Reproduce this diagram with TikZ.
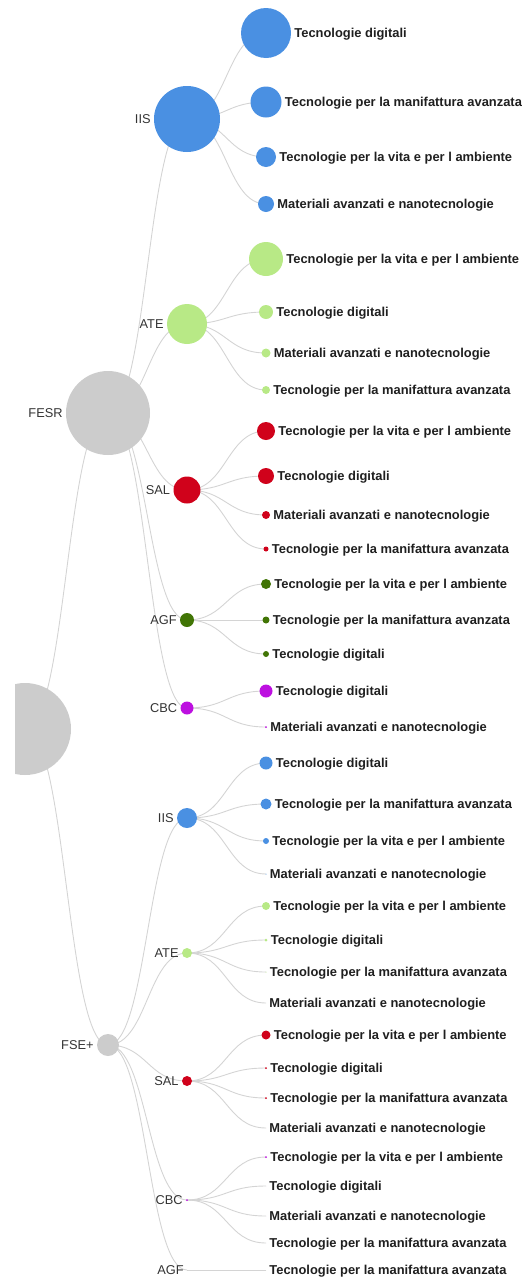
\documentclass[tikz,border=0pt]{standalone}
\usepackage{fontspec}
\setmainfont{Liberation Sans}
\usepackage{tikz}
\usetikzlibrary{calc, backgrounds}
\definecolor{iisblue}{RGB}{74, 144, 226}
\definecolor{atelime}{RGB}{184, 233, 134}
\definecolor{salred}{RGB}{208, 2, 27}
\definecolor{agfolive}{RGB}{65, 117, 5}
\definecolor{cbcviolet}{RGB}{189, 16, 224}
\definecolor{fundgrey}{RGB}{204, 204, 204}
\definecolor{linkgrey}{RGB}{212, 212, 212}

\begin{document}
\begin{tikzpicture}[x=1pt, y=-1pt,
    dot/.style={circle, inner sep=0pt, minimum size=#1},
    leaftext/.style={font=\fontsize{12.9}{14}\selectfont\bfseries, text=black!88,
        inner sep=0pt, text depth=0pt},
    innertext/.style={font=\fontsize{12.8}{14}\selectfont, text=black!80,
        inner sep=0pt, text depth=0pt},
    leaf/.style={label={[leaftext]right:#1}},
    inner/.style={label={[innertext]left:#1}},
    label distance=3pt,
    treelink/.style={draw=linkgrey, line width=0.9pt},
    diag/.style={to path={let \p1=(\tikztostart), \p2=(\tikztotarget) in
        .. controls ({(\x1+\x2)/2},\y1) and ({(\x1+\x2)/2},\y2) .. (\tikztotarget)}}
]
    \useasboundingbox (0,0) rectangle (525,1277);

    % root, cut by the left edge
    \begin{scope}
        \clip (15,0) rectangle (525,1277);
        \node[dot=92pt, fill=fundgrey] (root) at (25,729) {};
    \end{scope}

    % funds
    \node[dot=84pt, fill=fundgrey, inner=FESR] (fesr) at (108,413) {};
    \node[dot=22pt, fill=fundgrey, inner=FSE+] (fse) at (108,1045) {};

    % FESR areas
    \node[dot=66pt, fill=iisblue, inner=IIS] (a-iis) at (187,119) {};
    \node[dot=40pt, fill=atelime, inner=ATE] (a-ate) at (187,324) {};
    \node[dot=27pt, fill=salred, inner=SAL] (a-sal) at (187,490) {};
    \node[dot=14pt, fill=agfolive, inner=AGF] (a-agf) at (187,620) {};
    \node[dot=13pt, fill=cbcviolet, inner=CBC] (a-cbc) at (187,708) {};

    % FSE+ areas
    \node[dot=20pt, fill=iisblue, inner=IIS] (b-iis) at (187,818) {};
    \node[dot=10pt, fill=atelime, inner=ATE] (b-ate) at (187,953) {};
    \node[dot=10pt, fill=salred, inner=SAL] (b-sal) at (187,1081) {};
    \node[dot=2pt, fill=cbcviolet, inner=CBC] (b-cbc) at (187,1200) {};
    \node[dot=0pt, fill=agfolive, inner=AGF] (b-agf) at (187,1270) {};

    % FESR leaves
    \node[dot=50pt, fill=iisblue, leaf=Tecnologie digitali] (a-iis-1) at (266,33) {};
    \node[dot=31pt, fill=iisblue, leaf=Tecnologie per la manifattura avanzata] (a-iis-2) at (266,102) {};
    \node[dot=20pt, fill=iisblue, leaf=Tecnologie per la vita e per l ambiente] (a-iis-3) at (266,157) {};
    \node[dot=16pt, fill=iisblue, leaf=Materiali avanzati e nanotecnologie] (a-iis-4) at (266,204) {};

    \node[dot=34pt, fill=atelime, leaf=Tecnologie per la vita e per l ambiente] (a-ate-1) at (266,259) {};
    \node[dot=14pt, fill=atelime, leaf=Tecnologie digitali] (a-ate-2) at (266,312) {};
    \node[dot=9pt, fill=atelime, leaf=Materiali avanzati e nanotecnologie] (a-ate-3) at (266,353) {};
    \node[dot=8pt, fill=atelime, leaf=Tecnologie per la manifattura avanzata] (a-ate-4) at (266,390) {};

    \node[dot=18pt, fill=salred, leaf=Tecnologie per la vita e per l ambiente] (a-sal-1) at (266,431) {};
    \node[dot=16pt, fill=salred, leaf=Tecnologie digitali] (a-sal-2) at (266,476) {};
    \node[dot=8pt, fill=salred, leaf=Materiali avanzati e nanotecnologie] (a-sal-3) at (266,515) {};
    \node[dot=5pt, fill=salred, leaf=Tecnologie per la manifattura avanzata] (a-sal-4) at (266,549) {};

    \node[dot=10pt, fill=agfolive, leaf=Tecnologie per la vita e per l ambiente] (a-agf-1) at (266,584) {};
    \node[dot=7pt, fill=agfolive, leaf=Tecnologie per la manifattura avanzata] (a-agf-2) at (266,620) {};
    \node[dot=6pt, fill=agfolive, leaf=Tecnologie digitali] (a-agf-3) at (266,654) {};

    \node[dot=13pt, fill=cbcviolet, leaf=Tecnologie digitali] (a-cbc-1) at (266,691) {};
    \node[dot=2pt, fill=cbcviolet, leaf=Materiali avanzati e nanotecnologie] (a-cbc-2) at (266,727) {};

    % FSE+ leaves
    \node[dot=13pt, fill=iisblue, leaf=Tecnologie digitali] (b-iis-1) at (266,763) {};
    \node[dot=11pt, fill=iisblue, leaf=Tecnologie per la manifattura avanzata] (b-iis-2) at (266,804) {};
    \node[dot=6pt, fill=iisblue, leaf=Tecnologie per la vita e per l ambiente] (b-iis-3) at (266,841) {};
    \node[dot=1pt, fill=iisblue, leaf=Materiali avanzati e nanotecnologie] (b-iis-4) at (266,874) {};

    \node[dot=8pt, fill=atelime, leaf=Tecnologie per la vita e per l ambiente] (b-ate-1) at (266,906) {};
    \node[dot=3pt, fill=atelime, leaf=Tecnologie digitali] (b-ate-2) at (266,940) {};
    \node[dot=1pt, fill=atelime, leaf=Tecnologie per la manifattura avanzata] (b-ate-3) at (266,972) {};
    \node[dot=0pt, fill=atelime, leaf=Materiali avanzati e nanotecnologie] (b-ate-4) at (266,1003) {};

    \node[dot=9pt, fill=salred, leaf=Tecnologie per la vita e per l ambiente] (b-sal-1) at (266,1035) {};
    \node[dot=2pt, fill=salred, leaf=Tecnologie digitali] (b-sal-2) at (266,1068) {};
    \node[dot=2pt, fill=salred, leaf=Tecnologie per la manifattura avanzata] (b-sal-3) at (266,1098) {};
    \node[dot=0pt, fill=salred, leaf=Materiali avanzati e nanotecnologie] (b-sal-4) at (266,1128) {};

    \node[dot=2pt, fill=cbcviolet, leaf=Tecnologie per la vita e per l ambiente] (b-cbc-1) at (266,1157) {};
    \node[dot=0pt, fill=cbcviolet, leaf=Tecnologie digitali] (b-cbc-2) at (266,1186) {};
    \node[dot=0pt, fill=cbcviolet, leaf=Materiali avanzati e nanotecnologie] (b-cbc-3) at (266,1216) {};
    \node[dot=0pt, fill=cbcviolet, leaf=Tecnologie per la manifattura avanzata] (b-cbc-4) at (266,1243) {};

    \node[dot=0pt, fill=agfolive, leaf=Tecnologie per la manifattura avanzata] (b-agf-1) at (266,1270) {};

    % links, under the circles
    \begin{scope}[on background layer]
        \draw[treelink] (root.center) to[diag] (fesr.center);
        \draw[treelink] (root.center) to[diag] (fse.center);

        \draw[treelink] (fesr.center) to[diag] (a-iis.center);
        \draw[treelink] (fesr.center) to[diag] (a-ate.center);
        \draw[treelink] (fesr.center) to[diag] (a-sal.center);
        \draw[treelink] (fesr.center) to[diag] (a-agf.center);
        \draw[treelink] (fesr.center) to[diag] (a-cbc.center);

        \draw[treelink] (fse.center) to[diag] (b-iis.center);
        \draw[treelink] (fse.center) to[diag] (b-ate.center);
        \draw[treelink] (fse.center) to[diag] (b-sal.center);
        \draw[treelink] (fse.center) to[diag] (b-cbc.center);
        \draw[treelink] (fse.center) to[diag] (b-agf.center);

        \draw[treelink] (a-iis.center) to[diag] (a-iis-1.center);
        \draw[treelink] (a-iis.center) to[diag] (a-iis-2.center);
        \draw[treelink] (a-iis.center) to[diag] (a-iis-3.center);
        \draw[treelink] (a-iis.center) to[diag] (a-iis-4.center);
        \draw[treelink] (a-ate.center) to[diag] (a-ate-1.center);
        \draw[treelink] (a-ate.center) to[diag] (a-ate-2.center);
        \draw[treelink] (a-ate.center) to[diag] (a-ate-3.center);
        \draw[treelink] (a-ate.center) to[diag] (a-ate-4.center);
        \draw[treelink] (a-sal.center) to[diag] (a-sal-1.center);
        \draw[treelink] (a-sal.center) to[diag] (a-sal-2.center);
        \draw[treelink] (a-sal.center) to[diag] (a-sal-3.center);
        \draw[treelink] (a-sal.center) to[diag] (a-sal-4.center);
        \draw[treelink] (a-agf.center) to[diag] (a-agf-1.center);
        \draw[treelink] (a-agf.center) to[diag] (a-agf-2.center);
        \draw[treelink] (a-agf.center) to[diag] (a-agf-3.center);
        \draw[treelink] (a-cbc.center) to[diag] (a-cbc-1.center);
        \draw[treelink] (a-cbc.center) to[diag] (a-cbc-2.center);

        \draw[treelink] (b-iis.center) to[diag] (b-iis-1.center);
        \draw[treelink] (b-iis.center) to[diag] (b-iis-2.center);
        \draw[treelink] (b-iis.center) to[diag] (b-iis-3.center);
        \draw[treelink] (b-iis.center) to[diag] (b-iis-4.center);
        \draw[treelink] (b-ate.center) to[diag] (b-ate-1.center);
        \draw[treelink] (b-ate.center) to[diag] (b-ate-2.center);
        \draw[treelink] (b-ate.center) to[diag] (b-ate-3.center);
        \draw[treelink] (b-ate.center) to[diag] (b-ate-4.center);
        \draw[treelink] (b-sal.center) to[diag] (b-sal-1.center);
        \draw[treelink] (b-sal.center) to[diag] (b-sal-2.center);
        \draw[treelink] (b-sal.center) to[diag] (b-sal-3.center);
        \draw[treelink] (b-sal.center) to[diag] (b-sal-4.center);
        \draw[treelink] (b-cbc.center) to[diag] (b-cbc-1.center);
        \draw[treelink] (b-cbc.center) to[diag] (b-cbc-2.center);
        \draw[treelink] (b-cbc.center) to[diag] (b-cbc-3.center);
        \draw[treelink] (b-cbc.center) to[diag] (b-cbc-4.center);
        \draw[treelink] (b-agf.center) to[diag] (b-agf-1.center);
    \end{scope}
\end{tikzpicture}
\end{document}
